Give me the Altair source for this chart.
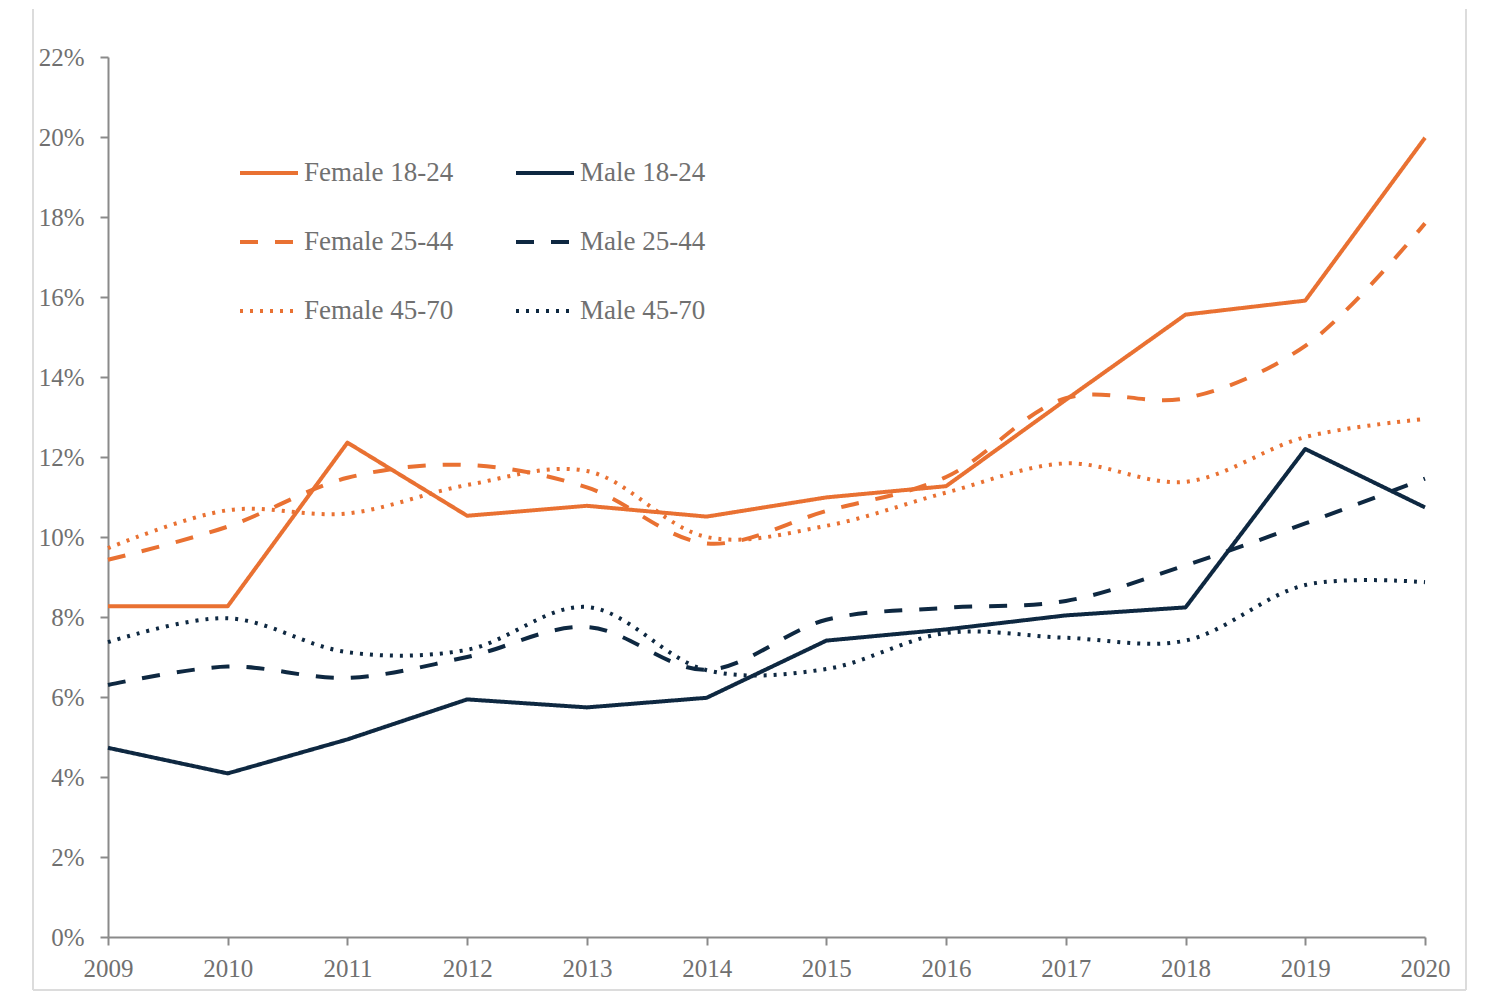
import altair as alt
import pandas as pd

years = list(range(2009, 2021))
series_names = ["Female 18-24", "Female 25-44", "Female 45-70", "Male 18-24", "Male 25-44", "Male 45-70"]
female_18_24 = [8.27, 8.27, 12.36, 10.53, 10.78, 10.51, 10.99, 11.27, 13.43, 15.56, 15.91, 19.98]
female_25_44 = [9.43, 10.26, 11.48, 11.80, 11.24, 9.84, 10.65, 11.50, 13.47, 13.47, 14.78, 17.84]
female_45_70 = [9.72, 10.67, 10.59, 11.30, 11.65, 10.00, 10.28, 11.11, 11.84, 11.38, 12.50, 12.95]
male_18_24 = [4.73, 4.09, 4.94, 5.94, 5.74, 5.98, 7.41, 7.69, 8.04, 8.24, 12.20, 10.74]
male_25_44 = [6.30, 6.76, 6.48, 7.00, 7.75, 6.68, 7.93, 8.23, 8.40, 9.29, 10.34, 11.46]
male_45_70 = [7.37, 7.97, 7.12, 7.18, 8.25, 6.67, 6.70, 7.60, 7.48, 7.41, 8.80, 8.87]
y_ticks = [0, 2, 4, 6, 8, 10, 12, 14, 16, 18, 20, 22]

values = {
    "Female 18-24": female_18_24,
    "Female 25-44": female_25_44,
    "Female 45-70": female_45_70,
    "Male 18-24": male_18_24,
    "Male 25-44": male_25_44,
    "Male 45-70": male_45_70,
}
rows = []
for name in series_names:
    for yr, v in zip(years, values[name]):
        rows.append({"year": yr, "value": v, "series": name})
df = pd.DataFrame(rows)

ORANGE = "#E97132"
NAVY = "#0E2841"
TEXT = "#707070"
AXIS = "#8a8a8a"
FONT = "Liberation Serif"

color_scale = alt.Scale(domain=series_names, range=[ORANGE, ORANGE, ORANGE, NAVY, NAVY, NAVY])
dash_scale = alt.Scale(domain=series_names, range=[[1, 0], [18, 17], [3, 7], [1, 0], [18, 17], [3, 7]])

legend = alt.Legend(
    title=None, orient="none", legendX=130, legendY=85, columns=2,
    symbolType="stroke", symbolSize=3364, symbolStrokeWidth=4,
    labelFont=FONT, labelFontSize=27, labelColor=TEXT, labelOffset=4,
    columnPadding=54, rowPadding=25, labelLimit=400,
)

x_enc = alt.X("year:Q", scale=alt.Scale(domain=[2009, 2020], nice=False, zero=False),
              axis=alt.Axis(values=years, format="d", title=None, grid=False,
                            labelFont=FONT, labelFontSize=25, labelColor=TEXT,
                            labelPadding=11, tickSize=8, tickColor=AXIS, tickWidth=2,
                            domainColor=AXIS, domainWidth=2, labelFlush=False))
y_enc = alt.Y("value:Q", scale=alt.Scale(domain=[0, 22], nice=False),
              axis=alt.Axis(values=y_ticks, labelExpr="datum.value + '%'", title=None, grid=False,
                            labelFont=FONT, labelFontSize=25, labelColor=TEXT,
                            labelPadding=16, tickSize=8, tickColor=AXIS, tickWidth=2,
                            domainColor=AXIS, domainWidth=2))

base = alt.Chart(df).encode(
    x=x_enc, y=y_enc,
    color=alt.Color("series:N", scale=color_scale, legend=legend, sort=series_names),
    strokeDash=alt.StrokeDash("series:N", scale=dash_scale, legend=legend, sort=series_names),
)

solid = base.transform_filter(
    alt.FieldOneOfPredicate(field="series", oneOf=["Female 18-24", "Male 18-24"])
).mark_line(strokeWidth=4, interpolate="linear", strokeJoin="round")

smooth = base.transform_filter(
    alt.FieldOneOfPredicate(field="series", oneOf=["Female 25-44", "Male 25-44", "Female 45-70", "Male 45-70"])
).mark_line(strokeWidth=4, interpolate="catmull-rom")

frame_df = pd.DataFrame({"k": [0]})
frame_color = "#dcdcdc"
left_edge = alt.Chart(frame_df).mark_rule(color=frame_color, strokeWidth=2).encode(
    x=alt.value(-75), y=alt.value(-48), y2=alt.value(933))
right_edge = alt.Chart(frame_df).mark_rule(color=frame_color, strokeWidth=2).encode(
    x=alt.value(1358), y=alt.value(-48), y2=alt.value(933))
bottom_edge = alt.Chart(frame_df).mark_rule(color=frame_color, strokeWidth=2).encode(
    x=alt.value(-75), x2=alt.value(1358), y=alt.value(933))

chart = alt.layer(left_edge, right_edge, bottom_edge, smooth, solid).resolve_scale(
    color="shared", strokeDash="shared"
).properties(
    width=1317, height=880,
    autosize=alt.AutoSizeParams(type="none"),
    padding={"left": 100, "top": 49, "right": 50, "bottom": 55},
    view=alt.ViewBackground(stroke="transparent", strokeWidth=0),
).configure(background="white").configure_view(stroke="transparent", strokeWidth=0)

chart.save("out.html", embed_options={"renderer": "svg", "actions": False})
